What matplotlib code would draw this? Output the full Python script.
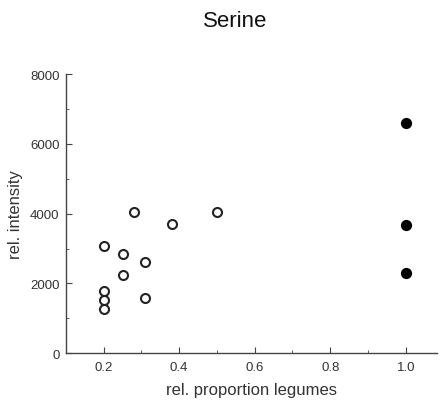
import matplotlib
matplotlib.use("Agg")
import matplotlib.pyplot as plt
from matplotlib.ticker import MultipleLocator

plt.rcParams['font.family'] = ['Liberation Sans', 'DejaVu Sans']

open_x = [0.2, 0.2, 0.2, 0.2, 0.25, 0.25, 0.28, 0.31, 0.31, 0.38, 0.5]
open_y = [3080, 1770, 1510, 1260, 2840, 2250, 4040, 2620, 1570, 3690, 4040]
filled_x = [1.0, 1.0, 1.0]
filled_y = [6590, 3670, 2300]

fig = plt.figure(figsize=(4.42, 4.06), dpi=100)
ax = fig.add_axes([0.149, 0.128, 0.84, 0.6865])
ax.scatter(open_x, open_y, s=42, facecolors='white', edgecolors='#222222', linewidths=1.5, zorder=3)
ax.scatter(filled_x, filled_y, s=50, facecolors='black', edgecolors='black', linewidths=1, zorder=3)

ax.set_xlim(0.1, 1.083)
ax.set_ylim(0, 8000)
ax.xaxis.set_minor_locator(MultipleLocator(0.1))
ax.yaxis.set_major_locator(MultipleLocator(2000))
ax.yaxis.set_minor_locator(MultipleLocator(1000))
ax.set_xticks([0.2, 0.4, 0.6, 0.8, 1.0])
ax.set_xticklabels(['0.2', '0.4', '0.6', '0.8', '1.0'])
for s in ['top', 'right']:
    ax.spines[s].set_visible(False)
for s in ['left', 'bottom']:
    ax.spines[s].set_color('#444444')
    ax.spines[s].set_linewidth(1.0)
ax.tick_params(which='both', direction='in', colors='#444444', labelcolor='#333333', labelsize=9.5)
ax.tick_params(which='major', length=4)
ax.tick_params(which='minor', length=2.5)
ax.tick_params(axis='x', which='major', pad=6)
ax.tick_params(axis='y', which='major', pad=4.5)
ax.set_xlabel('rel. proportion legumes', fontsize=12, color='#333333', labelpad=6)
ax.set_ylabel('rel. intensity', fontsize=12, color='#333333', labelpad=5)
fig.text(0.532, 0.948, 'Serine', ha='center', va='center', fontsize=16, color='#111111')

fig.savefig('out.png', dpi=100)
